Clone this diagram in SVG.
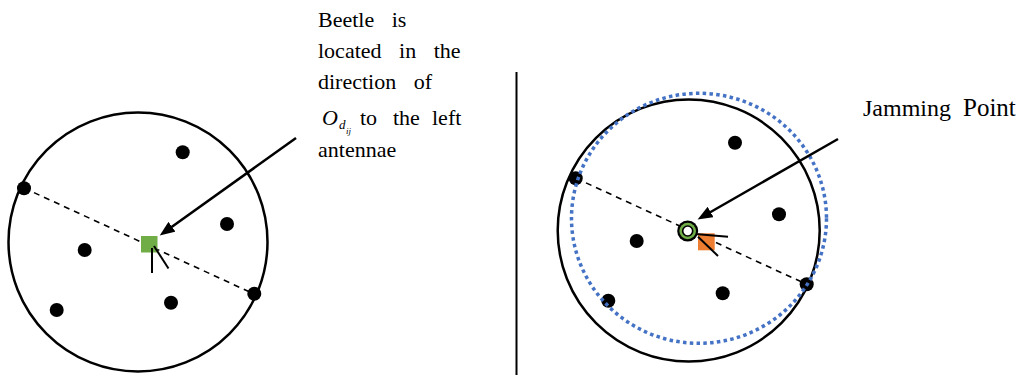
<svg xmlns="http://www.w3.org/2000/svg" width="1023" height="375" viewBox="0 0 1023 375">
<style>
.big{fill:none;stroke:#000;stroke-width:2.5}
.dot{fill:#000}
.dash{stroke:#000;stroke-width:1.6;stroke-dasharray:6 5;fill:none}
.ant{stroke:#000;stroke-width:2;fill:none}
.arr{stroke:#000;stroke-width:2.5;fill:none;marker-end:url(#ah)}
</style>
<defs>
<marker id="ah" markerUnits="userSpaceOnUse" markerWidth="16" markerHeight="12" refX="3" refY="6" orient="auto">
<path d="M0,0 L15,6 L0,12 z" fill="#000"/>
</marker>
</defs>
<rect width="1023" height="375" fill="#fff"/>
<g id="divider"><line x1="516.5" y1="72" x2="516.5" y2="375" stroke="#000" stroke-width="2"/></g>

<g id="left-scene">
<circle class="big" cx="138" cy="242" r="129.5"/>
<g id="left-connectors">
<line class="dash" x1="24" y1="188" x2="254" y2="294"/>
</g>
<g id="left-dots">
<circle class="dot" cx="24" cy="188.3" r="7"/>
<circle class="dot" cx="182.7" cy="152.3" r="7"/>
<circle class="dot" cx="227" cy="224" r="7"/>
<circle class="dot" cx="84.7" cy="250" r="7"/>
<circle class="dot" cx="56.7" cy="310" r="7"/>
<circle class="dot" cx="171" cy="302.7" r="7"/>
<circle class="dot" cx="254.3" cy="293.7" r="7"/>
</g>
<g id="beetle-left">
<rect x="141" y="236" width="16.5" height="16.5" fill="#70AD47"/>
<line class="ant" x1="152" y1="248" x2="152" y2="273"/>
<line class="ant" x1="154" y1="246" x2="168.5" y2="268.5"/>
</g>
</g>

<g id="right-scene">
<circle class="big" cx="688.7" cy="230.5" r="131"/>
<g id="right-connectors">
<line class="dash" x1="576" y1="178.3" x2="806.7" y2="284.3"/>
</g>
<g id="right-dots">
<circle class="dot" cx="575.7" cy="178.3" r="7"/>
<circle class="dot" cx="735" cy="142.7" r="7"/>
<circle class="dot" cx="779" cy="214.3" r="7"/>
<circle class="dot" cx="636.7" cy="241" r="7"/>
<circle class="dot" cx="608.3" cy="300.7" r="7"/>
<circle class="dot" cx="722.7" cy="293.3" r="7"/>
<circle class="dot" cx="806.7" cy="284.3" r="7"/>
</g>
<ellipse cx="699" cy="218.3" rx="127.5" ry="125" fill="none" stroke="#4472C4" stroke-width="3.5" stroke-dasharray="3.5 3.3"/>
<g id="beetle-right">
<rect x="698" y="233.3" width="16.7" height="17" fill="#ED7D31"/>
</g>
<g id="jamming-point">
<circle cx="687.7" cy="231" r="10.5" fill="#000"/>
<circle cx="687.7" cy="231" r="8.3" fill="#70AD47"/>
<circle cx="687.7" cy="231" r="5.8" fill="#000"/>
<circle cx="687.7" cy="231" r="4.2" fill="#fff"/>
</g>
<g id="right-antennae">
<line class="ant" x1="698" y1="234.3" x2="728" y2="236.7"/>
<line class="ant" x1="698" y1="236.7" x2="718" y2="256"/>
</g>
</g>

<g id="connectors">
<line class="arr" x1="296" y1="138" x2="169.5" y2="228.5"/>
<line class="arr" x1="838" y1="139" x2="708" y2="213.5"/>
</g>

<g id="label-beetle" font-family="Liberation Serif, Times New Roman, serif" font-size="22" fill="#000">
<text x="318" y="26.7" word-spacing="12">Beetle is</text>
<text x="318" y="58.3" word-spacing="12">located in the</text>
<text x="318" y="89.3" word-spacing="12">direction of</text>
<text y="125"><tspan x="322" font-style="italic">O</tspan><tspan x="339" y="129" font-size="13" font-style="italic">d</tspan><tspan x="346" y="134" font-size="9" font-style="italic">ij</tspan><tspan x="360" y="125">to</tspan><tspan x="393" y="125">the</tspan><tspan x="432" y="125">left</tspan></text>
<text x="318" y="156.7">antennae</text>
</g>
<g id="label-jamming" font-family="Liberation Serif, Times New Roman, serif" font-size="24" fill="#000">
<text x="863" y="116">Jamming</text>
<text x="963" y="116" font-size="25">Point</text>
</g>
</svg>
